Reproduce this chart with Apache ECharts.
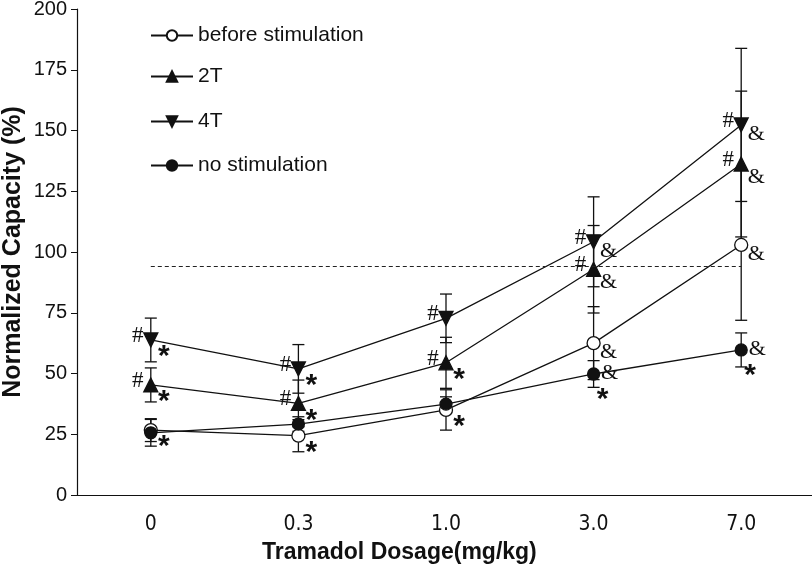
<!DOCTYPE html>
<html>
<head>
<meta charset="utf-8">
<script src="https://cdn.jsdelivr.net/npm/echarts@6/dist/echarts.min.js"></script>
<style>html,body{margin:0;padding:0;background:#fff;}#c{width:812px;height:572px;}</style>
</head>
<body>
<div id="c"></div>
<script>
var categories = ['0', '0.3', '1.0', '3.0', '7.0'];
var yTicks = [0, 25, 50, 75, 100, 125, 150, 175, 200];
var seriesNames = ['before stimulation', '2T', '4T', 'no stimulation'];

var beforeVals = [26.7, 24.4, 35.0, 62.5, 102.9];
var beforeErr  = [4.7, 6.6, 8.3, 15.0, 31.0];
var t2Vals     = [45.3, 37.7, 54.4, 92.9, 136.2];
var t2Err      = [7.0, 9.6, 10.5, 18.0, 30.0];
var t4Vals     = [63.8, 51.9, 72.7, 104.2, 152.3];
var t4Err      = [9.0, 10.0, 10.0, 18.5, 31.5];
var noStimVals = [25.6, 29.2, 37.4, 49.8, 59.7];
var noStimErr  = [5.5, 3.0, 3.0, 5.5, 7.0];

var referenceLevel = 94;

// annotations: [seriesName, categoryIndex, mark]
var annotations = [
  ['4T', 0, '#'], ['4T', 1, '#'], ['4T', 2, '#'], ['4T', 3, '#'], ['4T', 4, '#'],
  ['2T', 0, '#'], ['2T', 1, '#'], ['2T', 2, '#'], ['2T', 3, '#'], ['2T', 4, '#'],
  ['4T', 0, '*'], ['4T', 1, '*'],
  ['2T', 0, '*'], ['2T', 1, '*'], ['2T', 2, '*'],
  ['before stimulation', 0, '*'], ['before stimulation', 1, '*'], ['before stimulation', 2, '*'],
  ['no stimulation', 3, '*'], ['no stimulation', 4, '*'],
  ['4T', 3, '&'], ['4T', 4, '&'],
  ['2T', 3, '&'], ['2T', 4, '&'],
  ['before stimulation', 3, '&'], ['before stimulation', 4, '&'],
  ['no stimulation', 3, '&'], ['no stimulation', 4, '&']
];

var valsByName = {
  'before stimulation': beforeVals, '2T': t2Vals, '4T': t4Vals, 'no stimulation': noStimVals
};
var errByName = {
  'before stimulation': beforeErr, '2T': t2Err, '4T': t4Err, 'no stimulation': noStimErr
};

// text styling / offsets of the annotation marks (pixels relative to the point)
var markStyle = {
  '#': { dx: -13, dy: -4, font: '23px "Liberation Serif"' },
  '*': { dx: 13, dy: 17, font: 'bold 30px "Liberation Sans"' },
  '&': { dx: 15, dy: 9, font: '22px "Liberation Serif"' }
};
var markStyleOverride = {
  'no stimulation|&': { dx: 16, dy: -1 },
  'no stimulation|*': { dx: 9, dy: 26 },
  '2T|&': { dx: 15, dy: 13 }
};

var chart = echarts.init(document.getElementById('c'), null, { renderer: 'canvas' });

function errorSeries(name) {
  var vals = valsByName[name], errs = errByName[name];
  var data = vals.map(function (v, i) { return [i, v - errs[i], v + errs[i]]; });
  return {
    type: 'custom',
    name: name + ' err',
    z: 1,
    silent: true,
    renderItem: function (params, api) {
      var x = api.coord([api.value(0), 0])[0];
      var lo = api.coord([api.value(0), api.value(1)])[1];
      var hi = api.coord([api.value(0), api.value(2)])[1];
      var w = 6;
      var st = { stroke: '#111', lineWidth: 1.3 };
      return {
        type: 'group',
        children: [
          { type: 'line', shape: { x1: x, y1: lo, x2: x, y2: hi }, style: st },
          { type: 'line', shape: { x1: x - w, y1: lo, x2: x + w, y2: lo }, style: st },
          { type: 'line', shape: { x1: x - w, y1: hi, x2: x + w, y2: hi }, style: st }
        ]
      };
    },
    data: data,
    encode: { x: 0, y: [1, 2] }
  };
}

function lineSeries(name, symbol, size, rotate, fill) {
  return {
    type: 'line',
    name: name,
    z: 3,
    data: valsByName[name],
    symbol: symbol,
    symbolSize: size,
    symbolRotate: rotate,
    showAllSymbol: true,
    lineStyle: { color: '#111', width: 1.3 },
    itemStyle: { color: fill, borderColor: '#111', borderWidth: 1.3 },
    emphasis: { disabled: true },
    animation: false
  };
}

var annData = annotations.map(function (a) {
  return [a[1], valsByName[a[0]][a[1]], a[2], a[0]];
});

var annSeries = {
  type: 'custom',
  name: 'annotations',
  z: 5,
  silent: true,
  renderItem: function (params, api) {
    var d = annData[params.dataIndex];
    var p = api.coord([d[0], d[1]]);
    var m = d[2];
    var s = markStyle[m];
    var o = markStyleOverride[d[3] + '|' + m] || s;
    return {
      type: 'text',
      x: p[0] + o.dx,
      y: p[1] + o.dy,
      style: { text: m, font: s.font, fill: '#111', align: 'center', verticalAlign: 'middle' }
    };
  },
  data: annData.map(function (d) { return [d[0], d[1]]; })
};

var series = [
  errorSeries('before stimulation'),
  errorSeries('2T'),
  errorSeries('4T'),
  errorSeries('no stimulation'),
  lineSeries('before stimulation', 'circle', 13, 0, '#fff'),
  lineSeries('2T', 'triangle', 14, 0, '#111'),
  lineSeries('4T', 'triangle', 14, 180, '#111'),
  lineSeries('no stimulation', 'circle', 12, 0, '#111'),
  annSeries
];

series[4].markLine = {
  silent: true,
  symbol: 'none',
  label: { show: false },
  lineStyle: { color: '#222', type: [4, 3], width: 1.2 },
  data: [[{ coord: [0, referenceLevel] }, { coord: [4, referenceLevel] }]],
  animation: false
};

var legendRowsTop = [25, 66, 111, 155];
var legends = seriesNames.map(function (n, i) {
  return {
    data: [n],
    left: 150,
    top: legendRowsTop[i],
    padding: 0,
    itemWidth: 42,
    itemHeight: 13,
    itemGap: 6,
    selectedMode: false,
    textStyle: { fontFamily: 'Liberation Sans', fontSize: 21, color: '#111' }
  };
});

chart.setOption({
  animation: false,
  backgroundColor: '#fff',
  grid: { left: 77, top: 9, width: 738, height: 486, outerBoundsMode: 'none', containLabel: false },
  legend: legends,
  graphic: [{
    type: 'text',
    left: 400 - 138,
    top: 541,
    style: { text: 'Tramadol Dosage(mg/kg)', font: 'bold 23px "Liberation Sans"', fill: '#111' }
  }],
  xAxis: {
    type: 'category',
    data: categories,
    boundaryGap: true,
    axisLine: { lineStyle: { color: '#111', width: 1.2 } },
    axisTick: { alignWithLabel: true, length: 6, lineStyle: { color: '#111' } },
    axisLabel: { fontFamily: '"Liberation Sans Narrow", "DejaVu Sans Condensed", "Liberation Sans"', fontSize: 21, color: '#111', margin: 19 }
  },
  yAxis: {
    type: 'value',
    min: yTicks[0],
    max: yTicks[yTicks.length - 1],
    interval: yTicks[1] - yTicks[0],
    splitLine: { show: false },
    axisLine: { show: true, lineStyle: { color: '#111', width: 1.2 } },
    axisTick: { show: true, length: 6, lineStyle: { color: '#111' } },
    axisLabel: { fontFamily: 'Liberation Sans', fontSize: 20, color: '#111', margin: 10 },
    name: 'Normalized Capacity (%)',
    nameLocation: 'middle',
    nameGap: 51,
    nameMoveOverlap: false,
    nameTextStyle: { fontFamily: 'Liberation Sans', fontWeight: 'bold', fontSize: 25, color: '#111' }
  },
  series: series
});
</script>
</body>
</html>
